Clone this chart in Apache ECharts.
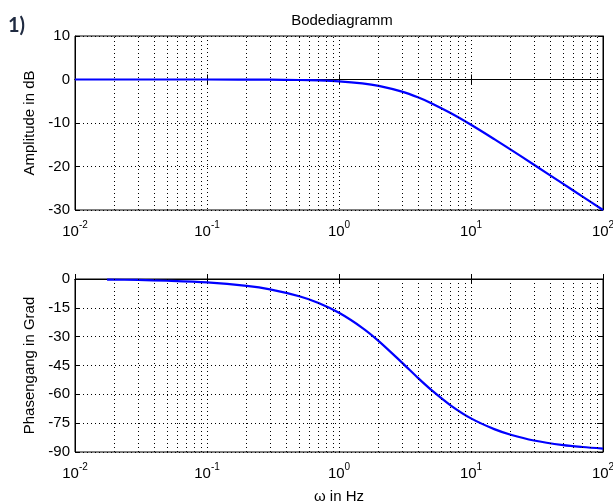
<!DOCTYPE html>
<html>
<head>
<meta charset="utf-8">
<script src="https://cdn.jsdelivr.net/npm/echarts@6/dist/echarts.min.js"></script>
<style>
html,body{margin:0;padding:0;background:#fff;}
#c{width:613px;height:501px;}
</style>
</head>
<body>
<div id="c"></div>
<script>
// ---- data ----
const ampFreq = [0.01, 0.1, 0.3, 0.5, 0.7, 1, 1.5, 2, 3, 4, 5, 7, 10, 15, 20, 30, 50, 70, 100];
const ampDb   = [0, 0, -0.04, -0.11, -0.21, -0.41, -0.88, -1.46, -2.79, -4.15, -5.44, -7.71, -10.41, -13.71, -16.13, -19.59, -24.0, -26.91, -30.0];
const phaseFreq = [0.0175, 0.03, 0.05, 0.1, 0.2, 0.3, 0.5, 0.7, 1, 1.5, 2, 3, 4, 5, 7, 10, 15, 20, 30, 50, 70, 100];
const phaseDeg  = [-0.3, -0.5, -0.9, -1.8, -3.6, -5.4, -9.0, -12.5, -17.6, -25.4, -32.3, -43.5, -51.7, -57.7, -65.7, -72.5, -78.1, -81.0, -84.0, -86.4, -87.4, -88.2];
const minorFreq = [0.02,0.03,0.04,0.05,0.06,0.07,0.08,0.09,
                   0.2,0.3,0.4,0.5,0.6,0.7,0.8,0.9,
                   2,3,4,5,6,7,8,9,
                   20,30,40,50,60,70,80,90];
const ampTicks = {min: -30, max: 10, interval: 10};
const phaseTicks = {min: -90, max: 0, interval: 15};
const titleText = 'Bodediagramm';
const ampLabel = 'Amplitude in dB';
const phaseLabel = 'Phasengang in Grad';
const xLabel = 'ω in Hz';

const FONT = 'Liberation Sans, Arial, sans-serif';
const FS = 15;
const dotted = {color: '#000', width: 1, type: [1, 3]};

function xAxes(gi, withName) {
  return [{
    type: 'log', logBase: 10, min: 0.01, max: 100, gridIndex: gi,
    axisLine: {show: true, lineStyle: {color: '#000', width: 1}},
    axisTick: {show: true, inside: true, length: 5, lineStyle: {color: '#000'}},
    splitLine: {show: true, lineStyle: dotted},
    axisLabel: {
      margin: 6, color: '#000', fontFamily: FONT,
      formatter: v => '{b|10}{s|' + Math.round(Math.log10(v)) + '}',
      rich: {
        b: {fontSize: FS, fontFamily: FONT, color: '#000', verticalAlign: 'bottom', lineHeight: 23},
        s: {fontSize: 10, fontFamily: FONT, color: '#000', verticalAlign: 'bottom', padding: [0, 0, 9, 0], lineHeight: 23}
      }
    },
    name: withName ? xLabel : '', nameLocation: 'middle', nameGap: 37,
    nameTextStyle: {fontSize: FS, fontFamily: FONT, color: '#000'}
  }, {
    type: 'log', logBase: 10, min: 0.01, max: 100, gridIndex: gi, position: 'top',
    axisLine: {show: true, lineStyle: {color: '#000', width: 1}},
    axisTick: {show: true, inside: true, length: 5, lineStyle: {color: '#000'}},
    splitLine: {show: false}, axisLabel: {show: false}
  }];
}
function yAxes(gi, t, name) {
  return [{
    type: 'value', gridIndex: gi, min: t.min, max: t.max, interval: t.interval,
    axisLine: {show: true, lineStyle: {color: '#000', width: 1}},
    axisTick: {show: true, inside: true, length: 5, lineStyle: {color: '#000'}},
    splitLine: {show: true, lineStyle: dotted},
    axisLabel: {margin: 5, fontSize: FS, fontFamily: FONT, color: '#000'},
    name: name, nameLocation: 'middle', nameGap: 38,
    nameTextStyle: {fontSize: FS, fontFamily: FONT, color: '#000'}
  }, {
    type: 'value', gridIndex: gi, min: t.min, max: t.max, interval: t.interval, position: 'right',
    axisLine: {show: true, lineStyle: {color: '#000', width: 1}},
    axisTick: {show: true, inside: true, length: 5, lineStyle: {color: '#000'}},
    splitLine: {show: false}, axisLabel: {show: false}
  }];
}
function minorLines() {
  return {
    silent: true, symbol: 'none', animation: false,
    label: {show: false},
    lineStyle: dotted,
    data: minorFreq.map(v => ({xAxis: v}))
  };
}

const chart = echarts.init(document.getElementById('c'), null, {renderer: 'canvas'});
chart.setOption({
  animation: false,
  backgroundColor: '#fff',
  title: {
    text: titleText, left: 337, top: 8, textAlign: 'center',
    textStyle: {fontSize: FS, fontWeight: 'normal', fontFamily: FONT, color: '#000'}
  },
  graphic: [{
    type: 'text', left: 8, top: 16,
    style: {text: '1)', font: 'bold 20px Lato, "Open Sans", sans-serif', fill: '#1f2a40'}
  }],
  grid: [
    {left: 75, right: 10, top: 36, height: 174, show: true, borderColor: '#000', borderWidth: 1, backgroundColor: 'transparent', outerBoundsMode: 'none', containLabel: false},
    {left: 75, right: 10, top: 279, height: 173, show: true, borderColor: '#000', borderWidth: 1, backgroundColor: 'transparent', outerBoundsMode: 'none', containLabel: false}
  ],
  xAxis: [...xAxes(0, false), ...xAxes(1, true)],
  yAxis: [...yAxes(0, ampTicks, ampLabel), ...yAxes(1, phaseTicks, phaseLabel)],
  series: [{
    type: 'line', xAxisIndex: 0, yAxisIndex: 0,
    data: ampFreq.map((f, i) => [f, ampDb[i]]),
    showSymbol: false, smooth: 0.3, clip: true,
    lineStyle: {color: '#0000ff', width: 2.2},
    markLine: minorLines()
  }, {
    type: 'line', xAxisIndex: 2, yAxisIndex: 2,
    data: phaseFreq.map((f, i) => [f, phaseDeg[i]]),
    showSymbol: false, smooth: 0.3, clip: true,
    lineStyle: {color: '#0000ff', width: 2.2},
    markLine: minorLines()
  }]
});
</script>
</body>
</html>
